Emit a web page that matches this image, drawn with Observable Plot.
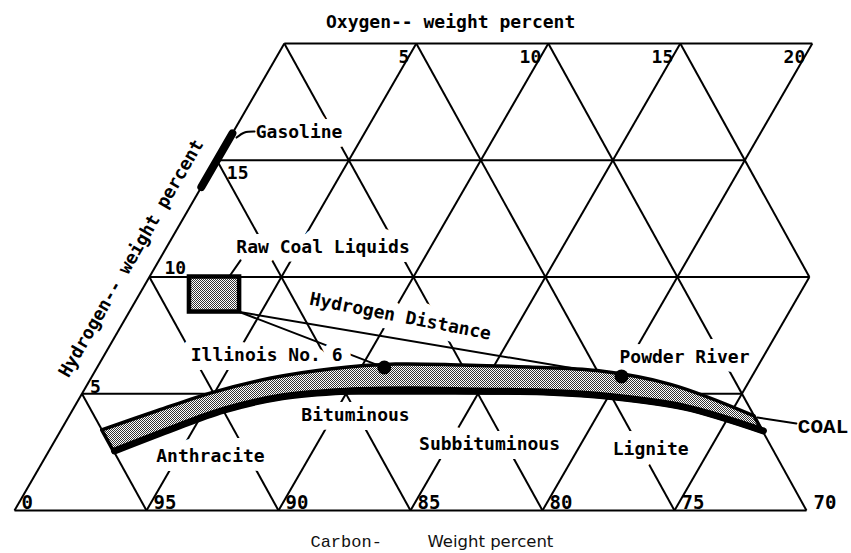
<!DOCTYPE html>
<html><head><meta charset="utf-8">
<script src="https://cdn.jsdelivr.net/npm/d3@7"></script>
<script src="https://cdn.jsdelivr.net/npm/@observablehq/plot@0.6"></script>
<style>body{margin:0;background:#fff}svg{overflow:visible}</style>
</head><body><div id="chart"></div>
<script>
// ---------------- data (weight percent) ----------------
const hydrogenLevels   = [0, 5, 10, 15, 20];
const hydrogenLineMaxO = [30, 25, 25, 20, 20];
const oxygenLevels     = [0, 5, 10, 15, 20, 25];
const oxygenLineMaxH   = [20, 20, 20, 20, 20, 10];
const carbonLevels     = [95, 90, 85, 80, 75, 70, 65];
const carbonLineMinH   = [0, 0, 0, 0, 0, 0, 10];
const carbonLineMaxH   = [5, 10, 15, 20, 20, 20, 20];

const oxygenTicks      = [5, 10, 15, 20];
const oxygenTickText   = ["5", "10", "15", "20"];
const hydrogenTicks    = [5, 10, 15];
const hydrogenTickText = ["5", "10", "15"];
const carbonTicks      = [100, 95, 90, 85, 80, 75, 70];
const carbonTickText   = ["0", "95", "90", "85", "80", "75", "70"];

// coal band: hydrogen range along constant-carbon lines
const coalBandCarbon  = [95, 92.5, 90, 87.5, 85, 82.5, 80, 77.5, 75, 72.5, 70];
const coalBandHTop    = [3.43, 4.25, 5.04, 5.65, 6.05, 6.25, 6.21, 6.12, 5.97, 5.38, 4.03];
const coalBandHBottom = [2.48, 3.38, 4.23, 4.80, 5.04, 5.10, 5.05, 5.00, 4.80, 4.36, 3.34];

const sampleNames  = ["Illinois No. 6", "Powder River"];
const sampleCarbon = [83.0, 74.2];
const sampleH      = [6.12, 5.74];

const gasolineO = 0, gasolineHRange = [13.85, 16.15];
const rawLiquidsO = [1.9, 3.8], rawLiquidsH = [8.5, 10.0];

const classLabels = ["Gasoline", "Raw Coal Liquids", "Illinois No. 6", "Bituminous", "Anthracite", "Subbituminous", "Lignite", "Powder River"];
const classLabelO = [2.63, 6.06, 6.27, 10.95, 6.37, 16.66, 22.89, 22.16];
const classLabelH = [15.95, 11.01, 6.42, 3.85, 2.06, 2.61, 2.36, 6.30];

const distanceLabel = "Hydrogen Distance", distanceLabelO = 10.37, distanceLabelH = 8.31;
const coalLabel = "COAL", coalLabelO = 28.92, coalLabelH = 3.34;

// leader lines: [O, H] points
const leaderGasoline = [[0.25, 15.97], [0.44, 16.19], [0.8, 16.23]];
const leaderRaw      = [[3.01, 9.98], [3.09, 10.71]];
const leaderCoal     = [[26.11, 3.98], [27.71, 3.73]];

// ---------------- geometry ----------------
const K = 0.511;                       // horizontal skew of the triangular grid
const tx = (O, H) => O + K * H;        // diagram horizontal coordinate
const fromC = (C, H) => tx(100 - C - H, H);

const gridLinks = [
  ...hydrogenLevels.map((h, i) => ({x1: tx(0, h), y1: h, x2: tx(hydrogenLineMaxO[i], h), y2: h})),
  ...oxygenLevels.map((o, i) => ({x1: tx(o, 0), y1: 0, x2: tx(o, oxygenLineMaxH[i]), y2: oxygenLineMaxH[i]})),
  ...carbonLevels.map((c, i) => {
    const a = carbonLineMinH[i], b = carbonLineMaxH[i];
    return {x1: fromC(c, a), y1: a, x2: fromC(c, b), y2: b};
  })
];

const band = coalBandCarbon.map((c, i) => ({
  x1: fromC(c, coalBandHTop[i]), y1: coalBandHTop[i],
  x2: fromC(c, coalBandHBottom[i]), y2: coalBandHBottom[i]
}));
const bandBottom = band.map(d => ({x: d.x2, y: d.y2 + 0.07}));
const samples = sampleNames.map((n, i) => ({name: n, x: fromC(sampleCarbon[i], sampleH[i]), y: sampleH[i]}));
const labels = classLabels.map((t, i) => ({text: t, x: tx(classLabelO[i], classLabelH[i]), y: classLabelH[i]}));

const boxHMid = (rawLiquidsH[0] + rawLiquidsH[1]) / 2;
const box = {x1: tx(rawLiquidsO[0], boxHMid), x2: tx(rawLiquidsO[1], boxHMid), y1: rawLiquidsH[0], y2: rawLiquidsH[1]};
const boxCorner = {x: box.x2, y: box.y1};
const distShort = [boxCorner, {x: samples[0].x, y: samples[0].y}];
const distLong  = [boxCorner, {x: samples[1].x, y: samples[1].y}];

const toXY = pts => pts.map(([o, h]) => ({x: tx(o, h), y: h}));
const gas = gasolineHRange.map(h => ({x: tx(gasolineO, h), y: h}));

const MONO = "DejaVu Sans Mono";
const txt = {fontFamily: MONO, fontWeight: "bold", fontSize: 18};

const chart = Plot.plot({
  width: 851, height: 553,
  marginLeft: 14, marginRight: 45, marginTop: 43, marginBottom: 43,
  x: {domain: [0, 30], range: [14, 806], axis: null},
  y: {domain: [0, 20], range: [510, 43], axis: null},
  marks: [
    Plot.link(gridLinks, {x1: "x1", y1: "y1", x2: "x2", y2: "y2", stroke: "#000", strokeWidth: 2}),
    Plot.line(distShort, {x: "x", y: "y", stroke: "#000", strokeWidth: 2}),
    // halos that open gaps in the grid around labels
    Plot.text(labels, {x: "x", y: "y", text: "text", ...txt, lineAnchor: "bottom", fill: "#fff", stroke: "#fff", strokeWidth: 18, strokeLinejoin: "round"}),
    Plot.text([distanceLabel], {x: tx(distanceLabelO, distanceLabelH), y: distanceLabelH, text: d => d, ...txt, rotate: 11, fill: "#fff", stroke: "#fff", strokeWidth: 18, strokeLinejoin: "round"}),
    Plot.line(distLong, {x: "x", y: "y", stroke: "#000", strokeWidth: 2}),
    // coal band
    Plot.area(band, {x1: "x1", y1: "y1", x2: "x2", y2: "y2", curve: "catmull-rom", fill: "url(#stipple)", stroke: "#000", strokeWidth: 3.5}),
    Plot.line(bandBottom, {x: "x", y: "y", curve: "catmull-rom", stroke: "#000", strokeWidth: 7}),
    // raw coal liquids box
    Plot.rect([box], {x1: "x1", x2: "x2", y1: "y1", y2: "y2", fill: "url(#stipple)", stroke: "#000", strokeWidth: 4.5}),
    // gasoline bar
    Plot.line(gas, {x: "x", y: "y", stroke: "#000", strokeWidth: 8}),
    // leaders
    Plot.line(toXY(leaderGasoline), {x: "x", y: "y", curve: "natural", stroke: "#000", strokeWidth: 2}),
    Plot.line(toXY(leaderRaw), {x: "x", y: "y", stroke: "#000", strokeWidth: 2}),
    Plot.line(toXY(leaderCoal), {x: "x", y: "y", stroke: "#000", strokeWidth: 2}),
    // samples
    Plot.dot(samples, {x: "x", y: "y", r: 7, fill: "#000"}),
    // labels
    Plot.text(labels, {x: "x", y: "y", text: "text", ...txt, lineAnchor: "bottom", fill: "#000"}),
    Plot.text([distanceLabel], {x: tx(distanceLabelO, distanceLabelH), y: distanceLabelH, text: d => d, ...txt, rotate: 11, fill: "#000"}),
    Plot.text([coalLabel], {x: tx(coalLabelO, coalLabelH), y: coalLabelH, text: d => d, fontFamily: "Liberation Mono", fontWeight: "bold", fontSize: 21, lineAnchor: "bottom", fill: "#000"}),
    // tick labels
    Plot.text(oxygenTicks, {x: o => tx(o, 20), y: 20, text: (d, i) => oxygenTickText[i], ...txt, fontSize: 18, textAnchor: "end", lineAnchor: "bottom", dx: -7, dy: 19}),
    Plot.text([hydrogenTicks[0]], {x: h => tx(0, h), y: h => h, text: () => hydrogenTickText[0], ...txt, textAnchor: "start", lineAnchor: "bottom", dx: 8, dy: -1}),
    Plot.text([hydrogenTicks[1]], {x: h => tx(0, h), y: h => h, text: () => hydrogenTickText[1], ...txt, textAnchor: "start", lineAnchor: "bottom", dx: 15, dy: -3}),
    Plot.text([hydrogenTicks[2]], {x: h => tx(0, h), y: h => h, text: () => hydrogenTickText[2], ...txt, textAnchor: "start", lineAnchor: "bottom", dx: 10, dy: 19}),
    Plot.text(carbonTicks, {x: c => fromC(c, 0), y: 0, text: (d, i) => carbonTickText[i], ...txt, fontSize: 19, textAnchor: "start", lineAnchor: "bottom", dx: 7, dy: -2}),
    // axis titles
    Plot.text(["Oxygen-- weight percent"], {x: 16.52, frameAnchor: "top", text: d => d, ...txt, lineAnchor: "bottom", dy: -16}),
    Plot.text(["Hydrogen-- weight percent"], {x: tx(-1.1, 10.8), y: 10.8, text: d => d, ...txt, rotate: -60}),
    Plot.text(["Carbon-"], {x: 11.21, frameAnchor: "bottom", text: d => d, fontFamily: "Liberation Mono", fontSize: 17, textAnchor: "start", lineAnchor: "bottom", dy: 36, fill: "#111"}),
    Plot.text(["Weight percent"], {x: 15.64, frameAnchor: "bottom", text: d => d, fontFamily: "DejaVu Sans", fontSize: 16.5, fontWeight: "normal", textAnchor: "start", lineAnchor: "bottom", dy: 36, fill: "#111"})
  ]
});

const svg = chart.tagName.toLowerCase() === "svg" ? chart : chart.querySelector("svg");
const defs = d3.select(svg).insert("defs", ":first-child");
const pat = defs.append("pattern").attr("id", "stipple").attr("width", 2).attr("height", 2).attr("patternUnits", "userSpaceOnUse");
pat.append("rect").attr("width", 2).attr("height", 2).attr("fill", "#fff");
pat.append("rect").attr("width", 1).attr("height", 1).attr("fill", "#333");
pat.append("rect").attr("x", 1).attr("y", 1).attr("width", 1).attr("height", 1).attr("fill", "#333");

document.getElementById("chart").appendChild(chart);
</script>
</body></html>
